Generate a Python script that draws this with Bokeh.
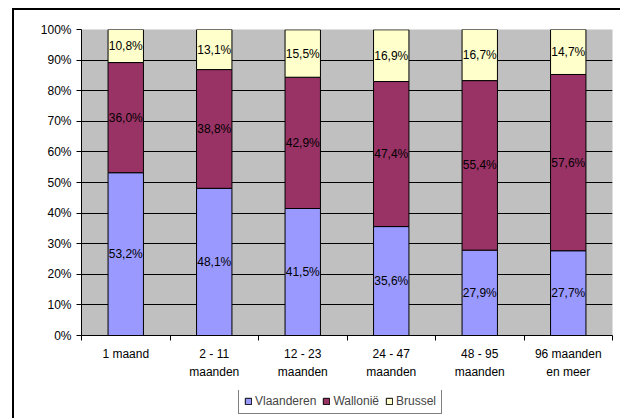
from bokeh.plotting import figure
from bokeh.layouts import column
from bokeh.models import (ColumnDataSource, FixedTicker, NumeralTickFormatter, LabelSet,
                          Legend, LegendItem)
from bokeh.core.properties import value
from bokeh.embed import file_html
from bokeh.resources import INLINE

categories = ["1 maand", "2 - 11\nmaanden", "12 - 23\nmaanden", "24 - 47\nmaanden",
              "48 - 95\nmaanden", "96 maanden\nen meer"]
vlaanderen = [53.2, 48.1, 41.5, 35.6, 27.9, 27.7]
wallonie = [36.0, 38.8, 42.9, 47.4, 55.4, 57.6]
brussel = [10.8, 13.1, 15.5, 16.9, 16.7, 14.7]
series_names = ["Vlaanderen", "Wallonië", "Brussel"]
colors = ["#9999FF", "#993366", "#FFFFCC"]

n = len(categories)
xs = [i + 0.5 for i in range(n)]
data = dict(x=xs,
            v=[a / 100 for a in vlaanderen],
            w=[a / 100 for a in wallonie],
            b=[a / 100 for a in brussel])
src = ColumnDataSource(data)

FONT = "Liberation Sans"

p = figure(width=620, height=390, x_range=(0, n), y_range=(0, 1),
           output_backend="svg", toolbar_location=None,
           min_border_left=81, min_border_right=8, min_border_top=29, min_border_bottom=55,
           background_fill_color="#C0C0C0", border_fill_color="white", border_fill_alpha=0,
           outline_line_color=None)

p.vbar_stack(["v", "w", "b"], x="x", width=0.4, color=colors,
             line_color="black", line_width=1, source=src)

# data labels
lbl_x, lbl_y, lbl_t = [], [], []
for i in range(n):
    base = 0.0
    for vals in (vlaanderen, wallonie, brussel):
        v = vals[i]
        lbl_x.append(xs[i])
        lbl_y.append(base + v / 200)
        lbl_t.append(f"{v:.1f}%".replace(".", ","))
        base += v / 100
lsrc = ColumnDataSource(dict(x=lbl_x, y=lbl_y, t=lbl_t))
p.add_layout(LabelSet(x="x", y="y", text="t", source=lsrc, text_align="center",
                      text_baseline="middle", text_font=value(FONT), text_font_size="12px",
                      text_color="black"))

# grid
p.xgrid.visible = False
p.ygrid.ticker = FixedTicker(ticks=[i / 10 for i in range(1, 10)])
p.ygrid.grid_line_color = "black"
p.ygrid.grid_line_width = 1
p.ygrid.level = "underlay"

# y axis
p.yaxis.ticker = FixedTicker(ticks=[i / 10 for i in range(0, 11)], minor_ticks=[])
p.yaxis.formatter = NumeralTickFormatter(format="0%")
p.yaxis.axis_line_color = "black"
p.yaxis.major_tick_in = 0
p.yaxis.major_tick_out = 5
p.yaxis.minor_tick_line_color = None
p.yaxis.major_label_text_font = FONT
p.yaxis.major_label_text_font_size = "12px"
p.yaxis.major_label_text_color = "black"
p.yaxis.major_label_standoff = 5

# x axis
p.xaxis.ticker = FixedTicker(ticks=xs, minor_ticks=list(range(n + 1)))
p.xaxis.major_label_overrides = {x: c for x, c in zip(xs, categories)}
p.xaxis.axis_line_color = "black"
p.xaxis.major_tick_in = 0
p.xaxis.major_tick_out = 0
p.xaxis.minor_tick_in = 0
p.xaxis.minor_tick_out = 5
p.xaxis.minor_tick_line_color = "black"
p.xaxis.major_label_text_font = FONT
p.xaxis.major_label_text_font_size = "12px"
p.xaxis.major_label_text_color = "black"
p.xaxis.major_label_text_line_height = 1.35
p.xaxis.major_label_standoff = 6

# legend strip below the chart (its renderers lie outside its visible range)
pl = figure(width=620, height=28, x_range=(100, 101), y_range=(100, 101),
            output_backend="svg", toolbar_location=None,
            min_border=0, background_fill_alpha=0, border_fill_alpha=0,
            outline_line_color=None)
pl.axis.visible = False
pl.grid.visible = False
lrs = pl.vbar_stack(["v", "w", "b"], x="x", width=0.4, color=colors,
                    line_color="black", line_width=1, source=src)
legend = Legend(items=[LegendItem(label=nm, renderers=[r]) for nm, r in zip(series_names, lrs)],
                orientation="horizontal", location=(157, 4),
                border_line_color="black", border_line_width=1,
                background_fill_color="white", background_fill_alpha=1,
                label_text_font=FONT, label_text_font_size="12px",
                glyph_width=8, glyph_height=8, label_standoff=3, spacing=6,
                padding=5, margin=0, label_height=12)
pl.add_layout(legend)

layout = column(p, pl, spacing=0)
# outer chart border (left and top edges; right/bottom lie outside the window)
layout.styles = {"box-shadow": "inset 12px 8px 0 0 white, inset 14px 10px 0 0 black"}

open("out.html", "w").write(file_html(layout, INLINE))
